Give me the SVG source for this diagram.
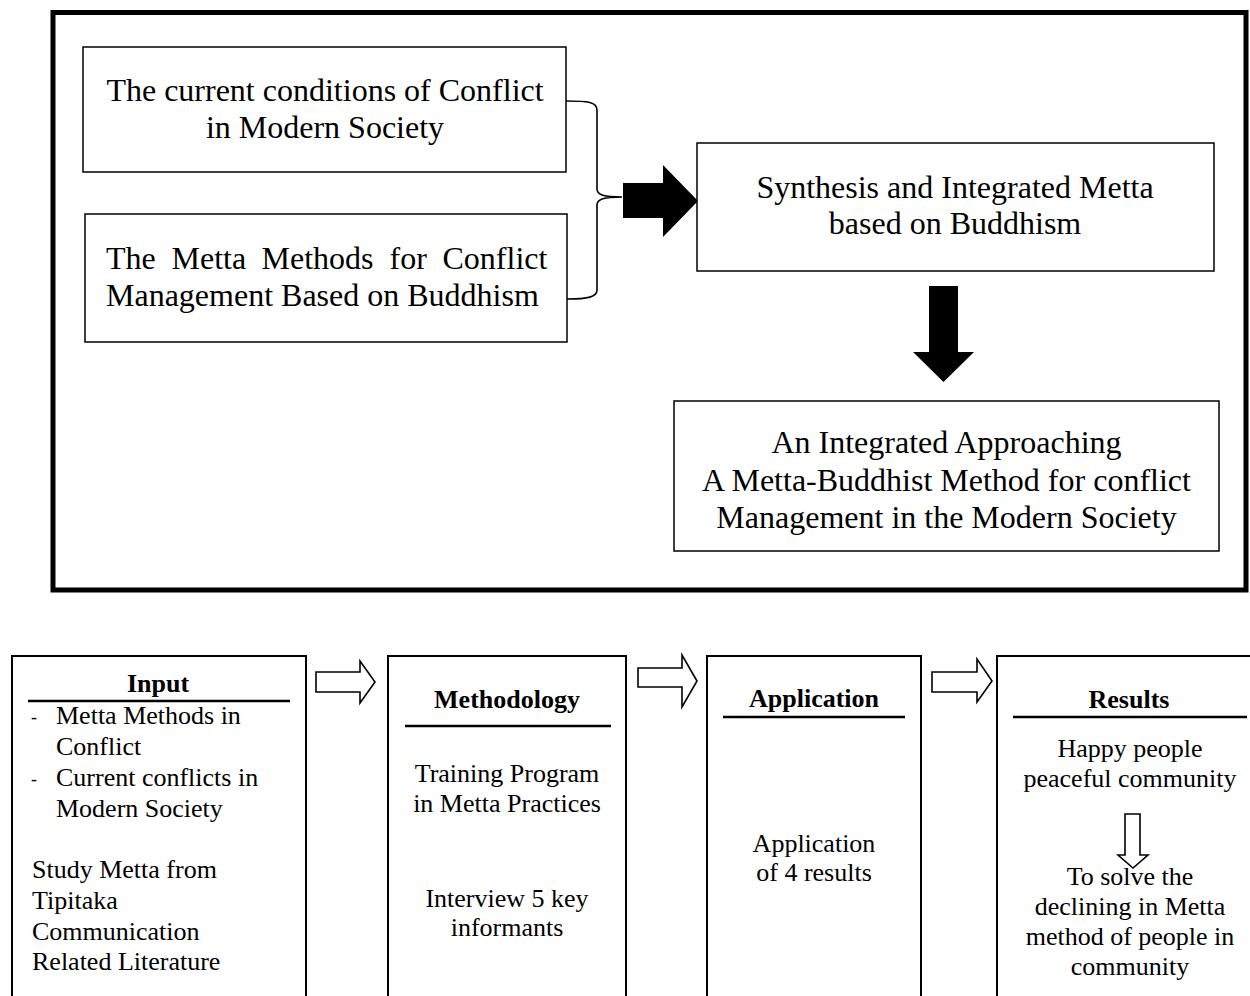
<svg xmlns="http://www.w3.org/2000/svg" width="1250" height="996" viewBox="0 0 1250 996">
<style>
.t{font-family:"Liberation Serif","Times New Roman",serif;fill:#000}
.big{font-size:32px}
.sm{font-size:26px}
.b{font-weight:bold}
.box{fill:#fff;stroke:#000;stroke-width:1.5}
.col{fill:none;stroke:#000;stroke-width:2}
.ul{stroke:#000;stroke-width:2.5}
.hollow{fill:none;stroke:#000;stroke-width:1.6;stroke-linejoin:miter}
.solid{fill:#000;stroke:none}
</style>
<rect x="0" y="0" width="1250" height="996" fill="#fff"/>
<rect id="frame" x="53" y="12.5" width="1193" height="577.5" fill="none" stroke="#000" stroke-width="5"/>

<g id="connectors">
  <path d="M566,101 C588,101 597,102 597,110 L597,189 C597,195 604,197 622,197 C604,197 597,199 597,205 L597,290 C597,297 588,299 567,299" fill="none" stroke="#000" stroke-width="1.6"/>
  <polygon class="solid" points="623,183 663,183 663,165 698,201 663,237 663,218 623,218"/>
  <polygon class="solid" points="929,286 958,286 958,352 974,352 943.5,382 913,352 929,352"/>
  <polygon class="hollow" points="316,672 360,672 360,661 375,682 360,703 360,692 316,692"/>
  <polygon class="hollow" points="638,668 682,668 682,655 697,681 682,707 682,687 638,687"/>
  <polygon class="hollow" points="932,672 977,672 977,659 992,681 977,702 977,692 932,692"/>
</g>

<g id="node-conditions">
  <rect class="box" x="83" y="47" width="483" height="125"/>
  <text class="t big" text-anchor="middle" x="325" y="101">The current conditions of Conflict</text>
  <text class="t big" text-anchor="middle" x="325" y="138">in Modern Society</text>
</g>

<g id="node-methods">
  <rect class="box" x="85" y="214" width="482" height="128"/>
  <text class="t big" y="269"><tspan x="106">The</tspan><tspan x="171.5">Metta</tspan><tspan x="261.5">Methods</tspan><tspan x="389.5">for</tspan><tspan x="442.5">Conflict</tspan></text>
  <text class="t big" x="106" y="306">Management Based on Buddhism</text>
</g>

<g id="node-synthesis">
  <rect class="box" x="697" y="143" width="517" height="128"/>
  <text class="t big" text-anchor="middle" x="955" y="198">Synthesis and Integrated Metta</text>
  <text class="t big" text-anchor="middle" x="955" y="234">based on Buddhism</text>
</g>

<g id="node-integrated">
  <rect class="box" x="674" y="401" width="545" height="150"/>
  <text class="t big" text-anchor="middle" x="946.5" y="453">An Integrated Approaching</text>
  <text class="t big" text-anchor="middle" x="946.5" y="490.5">A Metta-Buddhist Method for conflict</text>
  <text class="t big" text-anchor="middle" x="946.5" y="528">Management in the Modern Society</text>
</g>

<g id="node-input">
  <rect class="col" x="12" y="656" width="294" height="360"/>
  <text class="t sm b" text-anchor="middle" x="158" y="692">Input</text>
  <line class="ul" x1="28" y1="701" x2="290" y2="701"/>
  <text class="t" font-size="18" x="31" y="723">-</text>
  <text class="t sm" x="56" y="724">Metta Methods in</text>
  <text class="t sm" x="56" y="755">Conflict</text>
  <text class="t" font-size="18" x="31" y="785">-</text>
  <text class="t sm" x="56" y="786">Current conflicts in</text>
  <text class="t sm" x="56" y="817">Modern Society</text>
  <text class="t sm" x="32" y="878">Study Metta from</text>
  <text class="t sm" x="32" y="909">Tipitaka</text>
  <text class="t sm" x="32" y="940">Communication</text>
  <text class="t sm" x="32" y="970">Related Literature</text>
</g>

<g id="node-methodology">
  <rect class="col" x="388" y="656" width="238" height="360"/>
  <text class="t sm b" text-anchor="middle" x="507" y="708">Methodology</text>
  <line class="ul" x1="405" y1="726" x2="611" y2="726"/>
  <text class="t sm" text-anchor="middle" x="507" y="782">Training Program</text>
  <text class="t sm" text-anchor="middle" x="507" y="812">in Metta Practices</text>
  <text class="t sm" text-anchor="middle" x="507" y="907">Interview 5 key</text>
  <text class="t sm" text-anchor="middle" x="507" y="936">informants</text>
</g>

<g id="node-application">
  <rect class="col" x="707" y="656" width="214" height="360"/>
  <text class="t sm b" text-anchor="middle" x="814" y="707">Application</text>
  <line class="ul" x1="723" y1="717" x2="905" y2="717"/>
  <text class="t sm" text-anchor="middle" x="814" y="852">Application</text>
  <text class="t sm" text-anchor="middle" x="814" y="881">of 4 results</text>
</g>

<g id="node-results">
  <rect class="col" x="997" y="656" width="280" height="360"/>
  <text class="t sm b" text-anchor="middle" x="1129" y="708">Results</text>
  <line class="ul" x1="1013" y1="717" x2="1247" y2="717"/>
  <text class="t sm" text-anchor="middle" x="1130" y="757">Happy people</text>
  <text class="t sm" text-anchor="middle" x="1130" y="787">peaceful community</text>
  <text class="t sm" text-anchor="middle" x="1130" y="885">To solve the</text>
  <text class="t sm" text-anchor="middle" x="1130" y="915">declining in Metta</text>
  <text class="t sm" text-anchor="middle" x="1130" y="945">method of people in</text>
  <text class="t sm" text-anchor="middle" x="1130" y="975">community</text>
  <polygon class="hollow" points="1125,814 1140,814 1140,855 1148,855 1133,868 1118,855 1125,855"/>
</g>
</svg>
